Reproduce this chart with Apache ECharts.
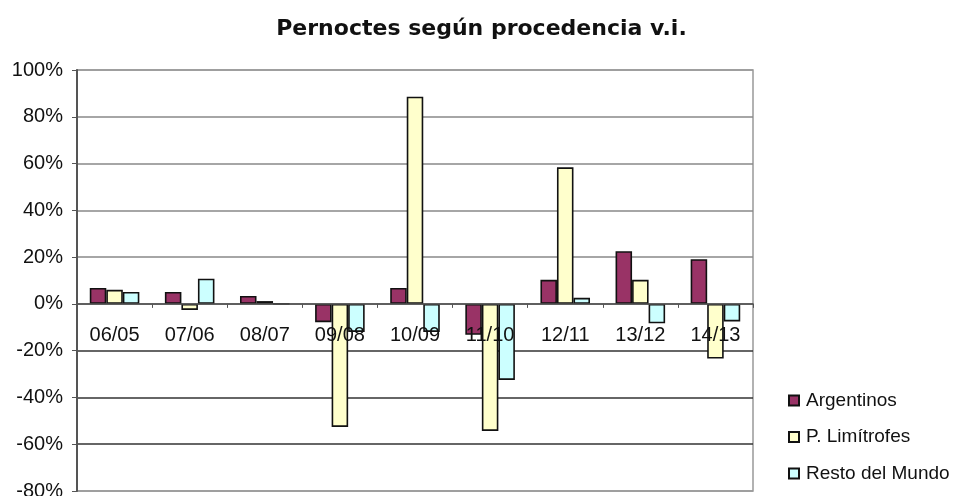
<!DOCTYPE html>
<html>
<head>
<meta charset="utf-8">
<script src="https://cdn.jsdelivr.net/npm/echarts@6/dist/echarts.min.js"></script>
<style>
html,body{margin:0;padding:0;background:#fff;}
#chart{width:963px;height:496px;}
</style>
</head>
<body>
<div id="chart"></div>
<script>
var categories = ['06/05','07/06','08/07','09/08','10/09','11/10','12/11','13/12','14/13'];
var argentinos = [6.8, 5.1, 3.4, -7.8, 6.8, -13.2, 10.3, 22.5, 19.1];
var limitrofes = [6.0, -2.6, 1.2, -52.6, 88.6, -54.3, 58.4, 10.3, -23.4];
var restoMundo = [5.1, 10.8, 0, -12.0, -12.0, -32.5, 2.6, -8.3, -7.5];
var seriesNames = ['Argentinos', 'P. Limítrofes', 'Resto del Mundo'];
var titleText = 'Pernoctes según procedencia v.i.';
var yMin = -80, yMax = 100, yStep = 20;

var gridTop = 70, gridBottom = 5, chartH = 496;
var plotH = chartH - gridTop - gridBottom;
// distance from the bottom of the plot to the zero line
var zeroOffset = plotH * (0 - yMin) / (yMax - yMin);

var chart = echarts.init(document.getElementById('chart'), null, {renderer: 'canvas'});
var font = 'Liberation Sans, Arial, sans-serif';
function barSeries(name, data, color) {
  return {
    name: name, type: 'bar', data: data,
    barGap: '0%', barCategoryGap: '34%',
    itemStyle: {color: color, borderColor: '#111', borderWidth: 1.6},
    emphasis: {disabled: true}
  };
}
chart.setOption({
  animation: false,
  backgroundColor: '#fff',
  title: {
    text: titleText, left: 'center', top: 13,
    textStyle: {fontFamily: 'DejaVu Sans', fontWeight: 'bold', fontSize: 22, color: '#111'}
  },
  legend: {
    orient: 'vertical', left: 783, top: 386,
    itemWidth: 10, itemHeight: 10, itemGap: 17.5,
    icon: 'rect',
    textStyle: {fontFamily: font, fontSize: 19, color: '#111', padding: [0,0,0,2]},
    data: seriesNames
  },
  grid: {
    left: 77, right: 210, top: gridTop, bottom: gridBottom,
    show: true, borderColor: '#999', borderWidth: 1.5,
    containLabel: false, outerBoundsMode: 'none'
  },
  xAxis: {
    type: 'category', data: categories, z: 5,
    position: 'bottom', offset: -zeroOffset,
    axisLine: {onZero: false, lineStyle: {color: '#555', width: 1.5}},
    axisTick: {show: true, inside: false, length: 4, lineStyle: {color: '#555'}},
    axisLabel: {fontFamily: font, fontSize: 20, color: '#111', margin: 22}
  },
  yAxis: {
    type: 'value', min: yMin, max: yMax, interval: yStep,
    axisLine: {show: true, lineStyle: {color: '#555', width: 2}},
    axisTick: {show: true, inside: false, length: 5, lineStyle: {color: '#555'}},
    axisLabel: {fontFamily: font, fontSize: 20, color: '#111', margin: 14, formatter: '{value}%'},
    splitLine: {show: true, lineStyle: {color: ['#999','#333','#333','#333','#555','#888','#888','#888','#888','#999'], width: 1.5}}
  },
  series: [
    barSeries(seriesNames[0], argentinos, '#993366'),
    barSeries(seriesNames[1], limitrofes, '#FFFFCC'),
    barSeries(seriesNames[2], restoMundo, '#CCFFFF')
  ]
});
</script>
</body>
</html>
